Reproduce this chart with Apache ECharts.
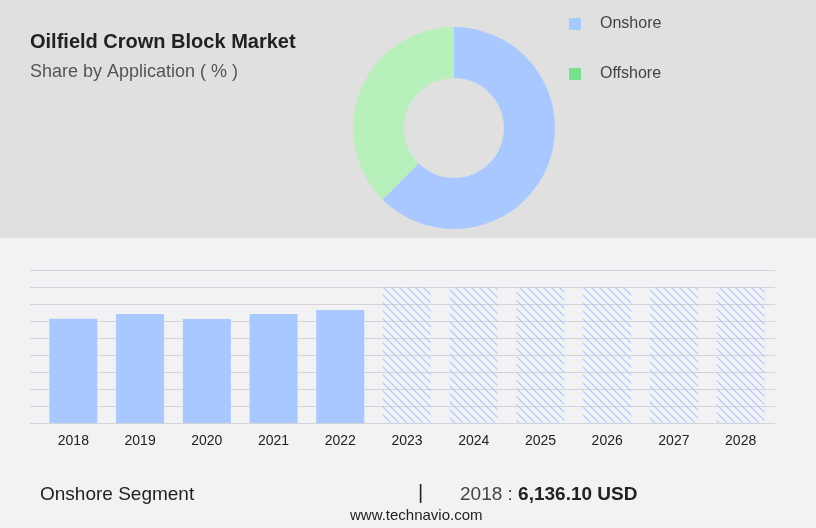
<!DOCTYPE html>
<html><head><meta charset="utf-8">
<script src="https://cdn.jsdelivr.net/npm/echarts@6/dist/echarts.min.js"></script>
<style>html,body{margin:0;padding:0;background:#f2f2f4}#c{width:816px;height:528px}</style>
</head><body><div id="c"></div>
<script>
const shareNames = ['Onshore', 'Offshore'];
const shareValues = [62.5, 37.5];
const years = ['2018','2019','2020','2021','2022','2023','2024','2025','2026','2027','2028'];
const actualValues = [6.136, 6.41, 6.12, 6.41, 6.65, null, null, null, null, null, null];
const forecastValues = [null, null, null, null, null, 8, 8, 8, 8, 8, 8];

const pc = document.createElement('canvas'); pc.width = 8; pc.height = 8;
const g = pc.getContext('2d');
g.strokeStyle = '#a8c8ff'; g.lineWidth = 1.1;
g.beginPath(); g.moveTo(-1,-1); g.lineTo(9,9); g.moveTo(-5,3); g.lineTo(5,13); g.moveTo(3,-5); g.lineTo(13,5); g.stroke();

const chart = echarts.init(document.getElementById('c'));
chart.setOption({
  animation: false,
  backgroundColor: '#f2f2f4',
  graphic: [
    {type:'rect', shape:{x:0,y:0,width:816,height:238}, style:{fill:'#e0e0e0'}, z:-1},
    {type:'text', left:30, top:32, style:{text:'Oilfield Crown Block Market', font:'bold 20px Arial', fill:'#222'}},
    {type:'text', left:30, top:63, style:{text:'Share by Application ( % )', font:'18px Arial', fill:'#555'}},
    {type:'rect', shape:{x:569,y:18,width:12,height:12}, style:{fill:'#a8c8ff'}},
    {type:'text', left:600, top:16, style:{text:shareNames[0], font:'16px Arial', fill:'#444'}},
    {type:'rect', shape:{x:569,y:68,width:12,height:12}, style:{fill:'#79e08c'}},
    {type:'text', left:600, top:66, style:{text:shareNames[1], font:'16px Arial', fill:'#444'}},
    {type:'text', left:40, top:485, style:{text:'Onshore Segment', font:'19px Arial', fill:'#222'}},
    {type:'text', left:418, top:483, style:{text:'|', font:'20px Arial', fill:'#222'}},
    {type:'text', left:460, top:485, style:{rich:{a:{font:'19px Arial',fill:'#444'},b:{font:'bold 19px Arial',fill:'#222'}}, text:'{a|2018 : }{b|6,136.10 USD}'}},
    {type:'text', left:350, top:508, style:{text:'www.technavio.com', font:'15px Arial', fill:'#222'}}
  ],
  grid: [{left:40, right:42, top:270, height:153}, {left:30, right:41, top:270, height:153}],
  xAxis: [{type:'category', data:years, gridIndex:0, axisTick:{show:false},
    axisLine:{show:false}, axisLabel:{color:'#222', fontSize:14, margin:11}},
    {type:'value', gridIndex:1, show:false, min:0, max:1}],
  yAxis: [{type:'value', gridIndex:0, min:0, max:9, interval:1, axisLabel:{show:false}, axisTick:{show:false}, axisLine:{show:false}, splitLine:{show:false}},
    {type:'value', gridIndex:1, min:0, max:9, interval:1, axisLabel:{show:false}, axisTick:{show:false},
    axisLine:{show:false}, splitLine:{lineStyle:{color:'#d4d4d8'}}}],
  series: [
    {type:'pie', radius:[50,101], center:[454,128], startAngle:90, clockwise:true,
     label:{show:false}, silent:true,
     data: shareNames.map((n,i)=>({name:n, value:shareValues[i],
       itemStyle:{color: i===0?'#a8c8ff':'#b8f0bb'}}))},
    {type:'bar', data:actualValues, barWidth:48, stack:'a', itemStyle:{color:'#a8c8ff'}, z:3},
    {type:'bar', data:forecastValues, barWidth:48, stack:'a', itemStyle:{color:{image:pc, repeat:'repeat'}}, z:3}
  ]
});
</script></body></html>
